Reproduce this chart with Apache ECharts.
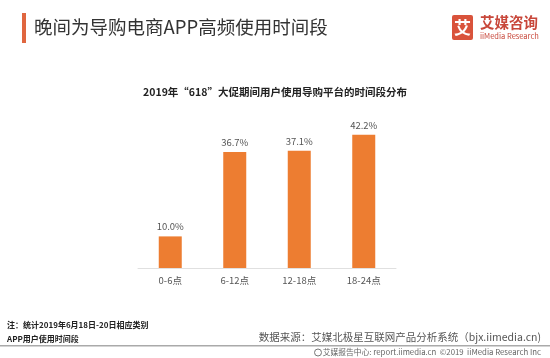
<!DOCTYPE html>
<html><head><meta charset="utf-8">
<script src="https://cdn.jsdelivr.net/npm/echarts@6/dist/echarts.min.js"></script>
<style>html,body{margin:0;padding:0;background:#fff}#c{width:550px;height:358px}</style>
</head><body><div id="c"></div>
<script>
var categories = ['0-6点', '6-12点', '12-18点', '18-24点'];
var values = [10.0, 36.7, 37.1, 42.2];
var pageTitle = '晚间为导购电商APP高频使用时间段';
var chartTitle = '2019年“618”大促期间用户使用导购平台的时间段分布';
var noteLines = ['注：统计2019年6月18日-20日相应类别', 'APP用户使用时间段'];
var sourceText = '数据来源：艾媒北极星互联网产品分析系统（bjx.iimedia.cn)';
var footerText = '艾媒报告中心: report.iimedia.cn  ©2019  iiMedia Research Inc';

var font = '"Noto Sans CJK SC", "Noto Sans", sans-serif';
var chart = echarts.init(document.getElementById('c'));
chart.setOption({
  backgroundColor: '#fff',
  animation: false,
  title: [
    {text: pageTitle, left: 29, top: 13, textStyle: {fontFamily: font, fontSize: 18.5, fontWeight: 'normal', color: '#333'}},
    {text: chartTitle, left: 'center', top: 82, textStyle: {fontFamily: font, fontSize: 10.5, fontWeight: 'bold', color: '#222'}}
  ],
  grid: {left: 138, right: 154, top: 110, bottom: 90},
  xAxis: {
    type: 'category', data: categories,
    axisLine: {lineStyle: {color: '#e0e0e0'}},
    axisTick: {show: false},
    axisLabel: {fontFamily: font, fontSize: 9.5, color: '#555', margin: 8}
  },
  yAxis: {type: 'value', min: 0, max: 50, show: false, splitLine: {show: false}},
  series: [{
    type: 'bar', data: values, barWidth: 23,
    itemStyle: {color: '#ED7D31'},
    label: {show: true, position: 'top', distance: 5, fontFamily: font, fontSize: 9.5, color: '#555',
      formatter: function(p){ return p.value.toFixed(1) + '%'; }}
  }],
  graphic: [
    {type: 'rect', shape: {x: 22, y: 13, width: 4, height: 30}, style: {fill: '#E0663F'}},
    {type: 'rect', shape: {x: 452, y: 15, width: 21, height: 25, r: 2}, style: {fill: '#D9533B'}},
    {type: 'text', style: {x: 462.5, y: 27.5, text: '艾', fill: '#fff', font: 'bold 17px ' + font, align: 'center', verticalAlign: 'middle'}},
    {type: 'text', style: {x: 480, y: 22, text: '艾媒咨询', fill: '#C8473A', font: 'bold 14.5px ' + font, verticalAlign: 'middle'}},
    {type: 'text', style: {x: 480, y: 36, text: 'iiMedia Research', fill: '#C8473A', font: '7.5px ' + font, verticalAlign: 'middle'}},
    {type: 'text', style: {x: 7, y: 325, text: noteLines[0], fill: '#222', font: 'bold 8px ' + font, verticalAlign: 'middle'}},
    {type: 'text', style: {x: 7, y: 339, text: noteLines[1], fill: '#222', font: 'bold 8px ' + font, verticalAlign: 'middle'}},
    {type: 'text', style: {x: 541, y: 337, text: sourceText, fill: '#555', font: '10.5px ' + font, align: 'right', verticalAlign: 'middle'}},
    {type: 'rect', shape: {x: 0, y: 345, width: 550, height: 1.5}, style: {fill: '#aaa'}},
    {type: 'circle', shape: {cx: 318, cy: 352.5, r: 3.5}, style: {fill: 'none', stroke: '#777', lineWidth: 1}},
    {type: 'text', style: {x: 541, y: 352.5, text: footerText, fill: '#666', font: '7.8px ' + font, align: 'right', verticalAlign: 'middle'}}
  ]
});
</script></body></html>
